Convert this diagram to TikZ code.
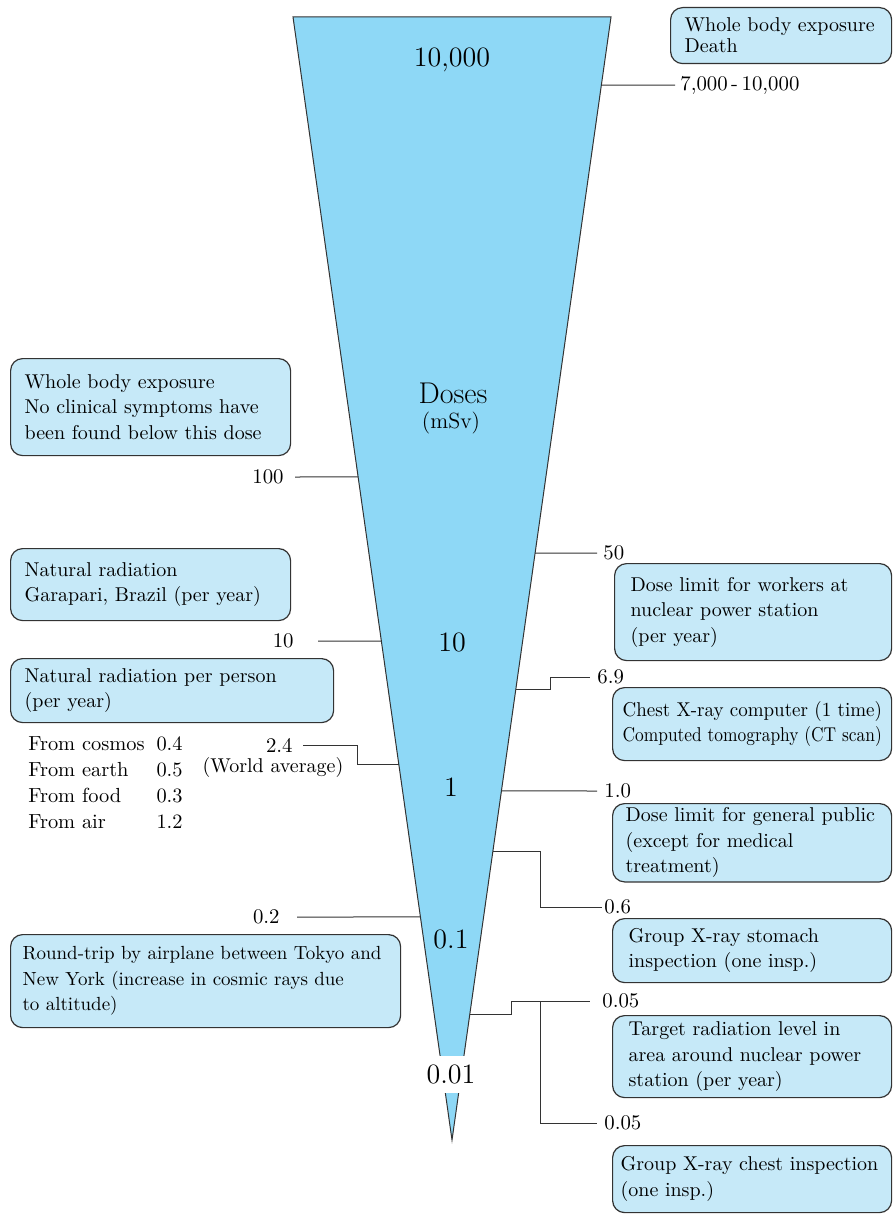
\documentclass[tikz,border=0pt]{standalone}
\usepackage{graphicx}
\usetikzlibrary{calc,positioning}
\definecolor{funnelblue}{HTML}{8ED8F6}
\definecolor{boxblue}{HTML}{C6E9F8}
\definecolor{edgegray}{HTML}{333333}

\begin{document}
\begin{tikzpicture}[
  x=0.5pt, y=-0.5pt,
  font=\fontsize{10}{12.8}\selectfont,
  box/.style={rectangle,rounded corners=6pt,draw=edgegray,fill=boxblue,
    line width=0.6pt,anchor=north west,align=left,inner xsep=7pt,inner ysep=2pt},
  val/.style={inner ysep=0pt,inner xsep=3pt,font=\fontsize{10.4}{12}\selectfont},
  big/.style={inner sep=0pt,font=\fontsize{14}{16}\selectfont},
  lead/.style={line width=0.5pt,color=edgegray}
]
  \useasboundingbox (0,0) rectangle (893,1214);

  % funnel
  \coordinate (ftl) at (293,17);
  \coordinate (ftr) at (611,17);
  \coordinate (ftip) at (452,1140);
  \draw[fill=funnelblue,line width=0.5pt,draw=edgegray] (ftl) -- (ftr) -- (ftip) -- cycle;
  \path (ftl) -- (ftip) coordinate[pos=0.4096] (f100) coordinate[pos=0.5557] (f10)
    coordinate[pos=0.6652] (f24) coordinate[pos=0.8014] (f02);
  \path (ftr) -- (ftip) coordinate[pos=0.0606] (f7000) coordinate[pos=0.4773] (f50)
    coordinate[pos=0.5984] (f69) coordinate[pos=0.6892] (f1)
    coordinate[pos=0.7435] (f06) coordinate[pos=0.8878] (f005);

  \node[big] (n10000) at (452,60) {10,000};
  \node[big,font=\fontsize{15}{17}\selectfont] (doses) at (453,393) {Doses};
  \node[big,font=\fontsize{11}{13}\selectfont] (msv) at (451,423) {(mSv)};
  \node[big] (n10) at (452,642) {10};
  \node[big] (n1) at (451,787) {1};
  \node[big] (n01) at (451,939) {0.1};
  \node[big,fill=white,minimum height=18.5pt,inner xsep=1pt] (n001) at (451,1074) {0.01};

  % doses on the left
  \node[val,anchor=east,inner xsep=5.5pt] (v100) at (295,477) {100};
  \node[val,anchor=east,inner xsep=12pt] (v10) at (318,641) {10};
  \node[val,anchor=east,inner xsep=5pt] (v24) at (303,745) {2.4};
  \node[val,font=\fontsize{10}{12}\selectfont] (wavg) at (273,767) {(World average)};
  \node[val,anchor=east,inner xsep=8.5pt] (v02) at (297,917) {0.2};

  % doses on the right
  \node[val,anchor=west,inner xsep=2.5pt] (v7000) at (675,85) {7,000\,-\,10,000};
  \node[val,anchor=west] (v50) at (597,553) {50};
  \node[val,anchor=west,inner xsep=3.5pt] (v69) at (590,677) {6.9};
  \node[val,anchor=west,inner xsep=3.5pt] (v1) at (597,791) {1.0};
  \node[val,anchor=west,inner xsep=1pt] (v06) at (602,907) {0.6};
  \node[val,anchor=west,inner xsep=6pt] (v005a) at (590,1001) {0.05};
  \node[val,anchor=west,inner xsep=3.5pt] (v005b) at (597,1123) {0.05};
  \coordinate (split) at (540,1001);

  \draw[lead] (v100) -- (f100);
  \draw[lead] (v10) -- (f10);
  \draw[lead] (v24.east) -- ++(54,0) |- (f24);
  \draw[lead] (v02) -- (f02);
  \draw[lead] (f7000) -- (v7000);
  \draw[lead] (f50) -- (v50);
  \draw[lead] (f69) -- ++(35,0) |- (v69);
  \draw[lead] (f1) -- (v1);
  \draw[lead] (f06) -- ++(48,0) |- (v06);
  \draw[lead] (f005) -- ++(42,0) |- (v005a);
  \draw[lead] (split) |- (v005b);

  % boxes
  \node[box,text width=96.5pt,minimum height=28pt,font=\fontsize{10}{10.5}\selectfont]
    (death) at (670,7) {Whole body exposure\\Death};
  \node[box,text width=126pt,minimum height=48.5pt] (nosym) at (10,358)
    {Whole body exposure\\No clinical symptoms have\\been found below this dose};
  \node[box,text width=126pt,minimum height=36pt] (garapari) at (10,548)
    {Natural radiation\\Garapari, Brazil (per year)};
  \node[box,text width=147.5pt,minimum height=32pt] (perperson) at (10,658)
    {Natural radiation per person\\(per year)};
  \node[anchor=west,inner sep=0pt,font=\fontsize{10.2}{13}\selectfont] (sources) at (28,784)
    {\begin{tabular}{@{}l@{\hspace{6pt}}l@{}}
      From cosmos & 0.4\\ From earth & 0.5\\ From food & 0.3\\ From air & 1.2
    \end{tabular}};
  \node[box,inner xsep=6pt,text width=183pt,minimum height=46.5pt,
    font=\fontsize{9.5}{12.8}\selectfont] (airplane) at (10,934)
    {Round-trip by airplane between Tokyo and\\New York (increase in cosmic rays due\\to altitude)};

  \node[box,inner xsep=8pt,text width=122.5pt,minimum height=48.5pt] (workers) at (614,563)
    {Dose limit for workers at\\nuclear power station\\(per year)};
  \node[box,inner xsep=5pt,text width=129.5pt,minimum height=36.5pt] (ct) at (612,687)
    {\scalebox{0.95}[1]{Chest X-ray computer (1 time)}\\
     \scalebox{0.87}[1]{Computed tomography (CT scan)}};
  \node[box,inner xsep=6.5pt,text width=126.5pt,minimum height=38.5pt] (public) at (612,803)
    {Dose limit for general public\\(except for medical\\treatment)};
  \node[box,inner xsep=8pt,text width=123.5pt,minimum height=32pt] (stomach) at (612,918)
    {Group X-ray stomach\\inspection (one insp.)};
  \node[box,inner xsep=8pt,text width=123.5pt,minimum height=41pt] (target) at (612,1015)
    {Target radiation level in\\area around nuclear power\\station (per year)};
  \node[box,inner xsep=4pt,text width=131.5pt,minimum height=33.5pt] (chest) at (612,1145)
    {Group X-ray chest inspection\\(one insp.)};
\end{tikzpicture}
\end{document}
